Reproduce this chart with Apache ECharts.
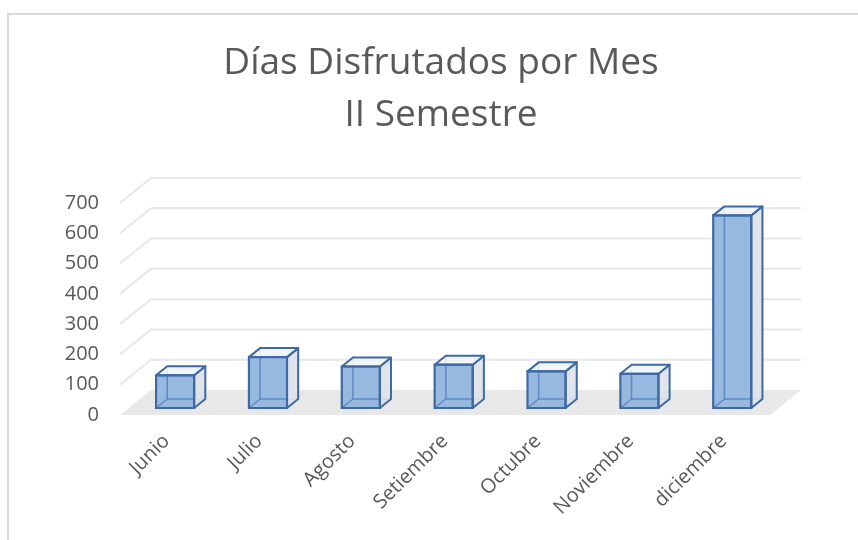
<!DOCTYPE html>
<html>
<head>
<meta charset="utf-8">
<script src="https://cdn.jsdelivr.net/npm/echarts@6/dist/echarts.min.js"></script>
<style>
  html, body { margin: 0; padding: 0; background: #fff; }
  #chart { width: 858px; height: 540px; }
</style>
</head>
<body>
<div id="chart"></div>
<script>
// datos
const meses = ["Junio", "Julio", "Agosto", "Setiembre", "Octubre", "Noviembre", "diciembre"];
const dias = [108, 168, 137, 143, 121, 113, 636];
const marcas = [0, 100, 200, 300, 400, 500, 600, 700];

// perspectiva oblicua: desplazamiento del fondo respecto al frente
const PROF = [31, -25];
const CAJA_INI = 0.28; // donde empieza la caja en profundidad
const CAJA_FIN = 0.64;
const FUENTE = "'Open Sans', sans-serif";

// piso gris y lineas de la pared del fondo
function pared(params, api) {
  const cs = params.coordSys;
  const y = api.coord([0, api.value(1)])[1];
  const x0 = cs.x,
    x1 = cs.x + cs.width;
  if (api.value(1) === 0) {
    return {
      type: "polygon",
      shape: {
        points: [[x0, y], [x0 + PROF[0], y + PROF[1]], [x1 + PROF[0], y + PROF[1]], [x1, y]],
      },
      style: { fill: "#e8e8e8" },
    };
  }
  return {
    type: "polyline",
    shape: {
      points: [[x0, y], [x0 + PROF[0], y + PROF[1]], [x1 + PROF[0], y + PROF[1]]],
    },
    style: { stroke: "#e8e8e8", lineWidth: 2, fill: null },
  };
}

// caja 3D de cada mes
function caja(params, api) {
  const i = api.value(0),
    v = api.value(1);
  const base = api.coord([i, 0]);
  const tope = api.coord([i, v]);
  const ancho = api.size([1, 0])[0] * 0.41;
  const ox = PROF[0] * CAJA_INI,
    oy = PROF[1] * CAJA_INI;
  const dx = PROF[0] * (CAJA_FIN - CAJA_INI),
    dy = PROF[1] * (CAJA_FIN - CAJA_INI);
  const l = base[0] + ox - ancho / 2,
    r = l + ancho;
  const b = base[1] + oy,
    t = tope[1] + oy;
  const borde = "#3e69a2";
  const oculto = "#5d89c3";
  return {
    type: "group",
    children: [
      {
        type: "rect",
        shape: { x: l, y: t, width: ancho, height: b - t },
        style: { fill: "#97b9e0" },
      },
      // aristas ocultas que se ven por transparencia
      {
        type: "polyline",
        shape: { points: [[l + dx, t + dy], [l + dx, b + dy], [r + dx, b + dy]] },
        style: { stroke: oculto, lineWidth: 1.5, fill: null },
      },
      {
        type: "line",
        shape: { x1: l, y1: b, x2: l + dx, y2: b + dy },
        style: { stroke: oculto, lineWidth: 1.5 },
      },
      // lado derecho
      {
        type: "polygon",
        shape: { points: [[r, t], [r + dx, t + dy], [r + dx, b + dy], [r, b]] },
        style: { fill: "rgba(222,226,233,0.9)", stroke: borde, lineWidth: 2, lineJoin: "round" },
      },
      // tapa
      {
        type: "polygon",
        shape: { points: [[l, t], [l + dx, t + dy], [r + dx, t + dy], [r, t]] },
        style: { fill: "rgba(240,243,248,0.9)", stroke: borde, lineWidth: 2, lineJoin: "round" },
      },
      {
        type: "rect",
        shape: { x: l, y: t, width: ancho, height: b - t },
        style: { fill: null, stroke: borde, lineWidth: 2.2 },
      },
    ],
  };
}

const chart = echarts.init(document.getElementById("chart"), null, { renderer: "canvas" });
chart.setOption({
  animation: false,
  backgroundColor: "#fff",
  title: {
    text: "Días Disfrutados por Mes\nII Semestre",
    left: 441,
    top: 37,
    padding: 0,
    textAlign: "center",
    textStyle: {
      fontFamily: FUENTE,
      fontWeight: "normal",
      fontSize: 37,
      lineHeight: 52,
      color: "#595959",
    },
  },
  graphic: [
    {
      type: "polyline",
      shape: { points: [[8, 540], [8, 14], [858, 14]] },
      style: { stroke: "#d9d9d9", lineWidth: 2, fill: null },
      silent: true,
    },
  ],
  grid: { left: 120, right: 88, top: 203, bottom: 125 },
  xAxis: {
    type: "category",
    data: meses,
    axisLine: { show: false },
    axisTick: { show: false },
    axisLabel: {
      rotate: 45,
      margin: 23,
      fontSize: 20,
      color: "#595959",
      fontFamily: FUENTE,
      interval: 0,
    },
  },
  yAxis: {
    type: "value",
    min: 0,
    max: 700,
    interval: 100,
    axisLine: { show: false },
    axisTick: { show: false },
    splitLine: { show: false },
    axisLabel: { margin: 21, fontSize: 20, color: "#595959", fontFamily: FUENTE },
  },
  series: [
    {
      name: "pared",
      type: "custom",
      renderItem: pared,
      data: marcas.map((m) => [0, m]),
      silent: true,
      z: 1,
    },
    {
      name: "Días",
      type: "custom",
      renderItem: caja,
      data: dias.map((d, i) => [i, d]),
      z: 2,
    },
  ],
});
</script>
</body>
</html>
